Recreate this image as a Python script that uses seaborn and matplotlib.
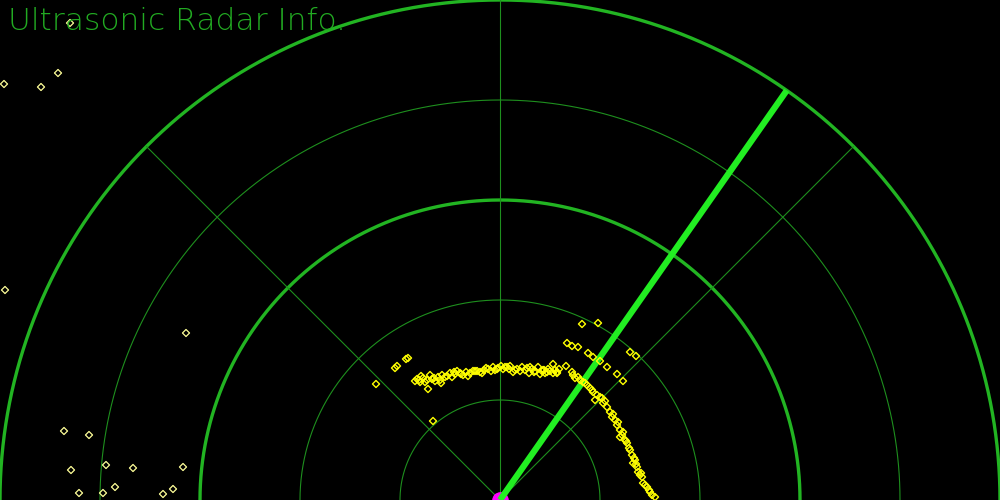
import numpy as np
import matplotlib
matplotlib.use("Agg")
import matplotlib.pyplot as plt
import seaborn as sns

# ---- data (distances in cm, sensor at origin) ----
ring_ranges = [10, 20, 30, 40, 50]
thick_rings = [30, 50]
angle_lines_deg = [45, 90, 135]
sweep_angle_deg = 55
max_range = 50

# dense echoes along the wall
echo_x = [-8.5, -8.3, -8.0, -7.7, -7.3, -7.0, -6.8, -6.5, -6.2, -5.8, -5.9, -5.5, -5.0, -4.8, -4.5,
          -4.0, -3.7, -3.4, -3.0, -2.7, -2.3, -2.0, -1.6, -1.2, -0.7, -0.5, -0.2, 0.3, 0.7, 0.9,
          1.3, 1.7, 2.2, 2.5, 2.9, 3.2, 3.5, 3.8, 4.2, 4.5, 4.8, 5.3, 5.7, 5.9,
          -7.9, -6.0, -4.3, -3.2, -1.8, -0.9, 0.1, 1.0, 2.0, 3.0, 4.0, 5.0,
          -8.1, -7.5, -6.6, -5.3, -4.6, -3.9, -2.5, -1.4, -0.3, 0.5, 1.5, 2.7, 3.4, 4.4,
          4.3, 4.7, 5.5, 5.7, 7.2, 7.3, 7.5, 8.3, 8.7, 9.0, 9.3, 9.7, 10.2, 10.3, 10.7, 11.0,
          11.2, 11.5, 11.7, 12.0, 12.2, 12.5, 12.7, 12.9, 13.2, 13.5, 13.7, 13.8, 14.2, 14.3,
          14.7, 15.0, 15.5, 9.5, 12.0, 13.3,
          8.0, 9.2, 10.5, 11.3, 12.3, 13.0, 13.6, 14.0, 14.5, 15.2,
          7.8, 8.5, 10.0, 11.8, 12.6, 13.4, 14.1, 14.9]
echo_y = [11.9, 12.1, 11.8, 12.2, 12.0, 12.5, 12.1, 11.9, 12.3, 12.5, 11.7, 12.3, 12.7, 12.3, 12.6,
          12.7, 12.5, 12.8, 12.7, 12.9, 12.9, 12.8, 13.0, 13.1, 13.3, 13.0, 13.2, 13.1, 13.3, 13.1,
          12.8, 13.1, 13.3, 13.0, 12.7, 13.1, 12.9, 13.3, 12.9, 12.7, 13.1, 12.7, 12.8, 13.1,
          12.4, 12.0, 12.9, 12.4, 12.7, 12.9, 13.4, 13.4, 12.9, 13.3, 12.6, 12.9,
          12.0, 11.8, 12.2, 12.4, 12.8, 12.6, 12.9, 13.2, 13.1, 13.3, 13.0, 13.2, 12.8, 13.0,
          13.0, 12.8, 13.0, 12.7, 12.8, 12.5, 12.2, 11.8, 11.5, 11.2, 10.8, 10.5, 10.2, 9.7, 9.3, 8.8,
          8.3, 8.0, 7.5, 7.0, 6.5, 6.0, 5.7, 5.2, 4.5, 4.0, 3.3, 2.8, 2.3, 1.7,
          1.3, 0.8, 0.3, 10.0, 6.3, 3.7,
          12.0, 11.0, 9.9, 8.6, 6.8, 5.0, 3.6, 2.5, 1.5, 0.5,
          12.3, 11.7, 10.3, 7.8, 5.9, 4.2, 2.7, 1.0]

# scattered echoes near the wall
near_x = [-12.4, -10.5, -10.3, -9.4, -9.2, -7.2, -6.7, 8.2, 9.8, 6.7, 7.2, 7.8, 8.8, 9.3, 10.0,
          10.7, 11.7, 12.3, 13.0, 13.6, 5.3, 6.6]
near_y = [11.6, 13.2, 13.4, 14.1, 14.2, 11.1, 7.9, 17.6, 17.7, 15.7, 15.4, 15.3, 14.7, 14.3, 13.9,
          13.3, 12.6, 11.9, 14.8, 14.4, 13.6, 13.4]

# far noise echoes
far_x = [-49.6, -45.9, -44.2, -43.0, -49.5, -31.4, -43.6, -41.1, -42.9, -39.4, -36.7, -31.7,
         -42.1, -39.7, -38.5, -33.7, -32.7]
far_y = [41.6, 41.3, 42.7, 47.7, 21.0, 16.7, 6.9, 6.5, 3.0, 3.5, 3.2, 3.3,
         0.7, 0.7, 1.3, 0.6, 1.1]

title = "Ultrasonic Radar Info."

# ---- drawing ----
sns.set_style("dark")
fig = plt.figure(figsize=(10, 5), dpi=100, facecolor="black")
ax = fig.add_axes([0, 0, 1, 1])
ax.set_facecolor("black")

thin_col = "#1e8f1e"
thick_col = "#22b422"
theta = np.linspace(0, np.pi, 721)
for r in ring_ranges:
    thick = r in thick_rings
    ax.plot(r * np.cos(theta), r * np.sin(theta),
            color=thick_col if thick else thin_col,
            lw=2.4 if thick else 0.8, zorder=1)
for a in angle_lines_deg:
    ar = np.deg2rad(a)
    ax.plot([0, max_range * np.cos(ar)], [0, max_range * np.sin(ar)],
            color=thin_col, lw=0.8, zorder=1)

ax.plot([0], [0], marker="o", ms=11, color="#ff00ff", zorder=2, clip_on=True)

sr = np.deg2rad(sweep_angle_deg)
ax.plot([0, max_range * np.cos(sr)], [0, max_range * np.sin(sr)],
        color="#22ee22", lw=4.5, solid_capstyle="butt", zorder=3)

sns.scatterplot(x=far_x, y=far_y, ax=ax, marker="D", s=13, facecolor="none",
                edgecolor="#ffff99", linewidth=0.9, zorder=4)
sns.scatterplot(x=near_x, y=near_y, ax=ax, marker="D", s=13, facecolor="none",
                edgecolor="#ffff00", linewidth=1.0, zorder=4)
sns.scatterplot(x=echo_x, y=echo_y, ax=ax, marker="D", s=13, facecolor="none",
                edgecolor="#ffff00", linewidth=1.0, zorder=4)

ax.set_xlim(-50, 50)
ax.set_ylim(0, 50)
ax.set_aspect("equal")
ax.axis("off")

fig.text(0.008, 1 - 21 / 500, title, color="#22aa22", fontsize=22.5,
         family="DejaVu Sans", fontweight="light", va="center", ha="left")

fig.savefig("out.png", dpi=100, facecolor="black")
